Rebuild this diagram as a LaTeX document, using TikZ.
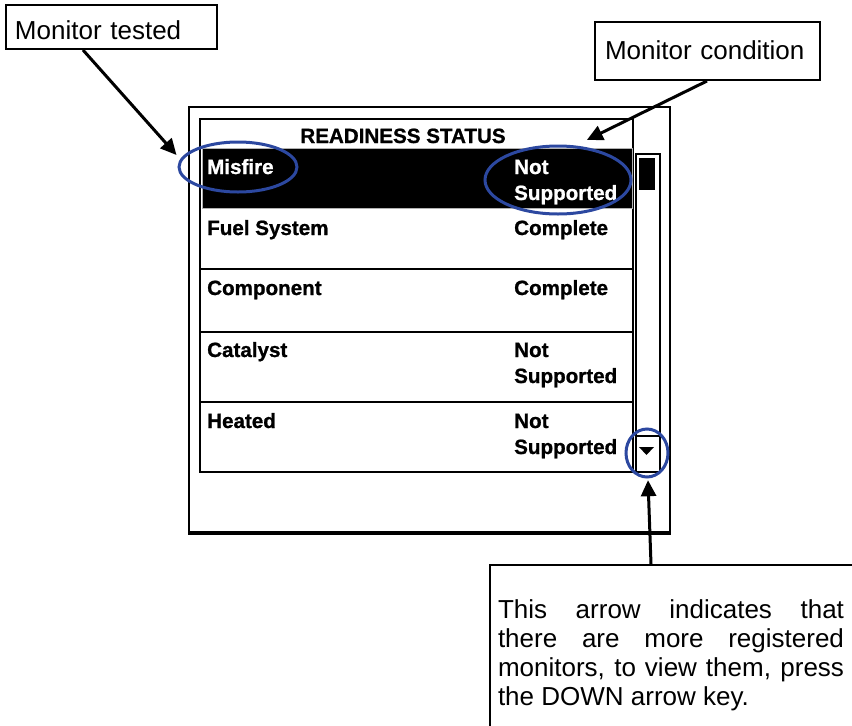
\documentclass[tikz,border=0pt]{standalone}
\usepackage{fontspec}
\setmainfont{Liberation Sans}
\newfontfamily\lcdfont{Liberation Sans Bold}[FakeBold=1]
\usetikzlibrary{arrows.meta,calc,shapes.geometric}
\definecolor{ringblue}{RGB}{44,72,160}

\begin{document}
\begin{tikzpicture}[x=1pt,y=-1pt,
  callout/.style={draw,line width=2pt,inner ysep=0pt,anchor=base west,align=left,
    font=\fontsize{26}{29}\selectfont},
  pointer/.style={line width=3pt,-{Triangle[length=16pt,width=15pt]}},
  ring/.style={ellipse,draw=ringblue,line width=3pt,inner sep=0pt},
  lcd/.style={font=\fontsize{20.6}{26}\lcdfont,inner sep=0pt,anchor=base west},
  rule/.style={line width=2.5pt},
]
\path[use as bounding box, clip] (0,0) rectangle (852,726);

% ---- scan-tool screen ----
\draw[line width=2.5pt] (189,107) rectangle (670,534);
\draw[line width=4pt] (188,533) -- (671,533);
\draw[rule] (200,119) rectangle (633,472);
% highlighted first row
\fill[black] (202,148) rectangle (632,208);
\draw[gray!60,line width=1pt] (202,148) rectangle (632,208);
% row separators
\draw[rule] (200,269) -- (633,269);
\draw[rule] (200,332) -- (633,332);
\draw[rule] (200,402) -- (633,402);
% scroll bar
\draw[rule] (636,154) rectangle (660,472);
\draw[rule] (636,436) -- (660,436);
\fill (639,158) rectangle (655,190);
\fill (639,447) -- (654,447) -- (646.5,455) -- cycle;
\node[minimum width=24pt,minimum height=36pt,inner sep=0pt] (downbtn) at (648,454) {};

% screen texts
\node[lcd,anchor=base] (hdr) at (403,143) {READINESS STATUS};
\node[lcd,text=white] (misfire) at (207,174) {Misfire};
\node[lcd,text=white] (mNot) at (514,174) {Not};
\node[lcd,text=white] (mSup) at (514,200) {Supported};
\node[lcd] (fuel) at (207,235) {Fuel System};
\node[lcd] (fuelSt) at (514,235) {Complete};
\node[lcd] (comp) at (207,295) {Component};
\node[lcd] (compSt) at (514,295) {Complete};
\node[lcd] (cat) at (207,357) {Catalyst};
\node[lcd] (catNot) at (514,357) {Not};
\node[lcd] (catSup) at (514,383) {Supported};
\node[lcd] (heat) at (207,428) {Heated};
\node[lcd] (heatNot) at (514,428) {Not};
\node[lcd] (heatSup) at (514,454) {Supported};

% highlight rings
\node[ring,minimum width=118pt,minimum height=50pt] (ringMisfire) at (238,167) {};
\node[ring,minimum width=146pt,minimum height=68pt] (ringState) at (558,180) {};
\node[ring,minimum width=42pt,minimum height=48pt] (ringDown) at (647,453) {};

% ---- callouts ----
\node[callout,inner xsep=9pt,text width=193pt,text height=34pt,text depth=10pt]
  (tested) at (5,39) {Monitor tested};
\node[callout,inner xsep=10pt,text width=205pt,text height=37pt,text depth=21pt]
  (cond) at (594,59) {Monitor condition};
\node[callout,inner xsep=8pt,text height=53pt,text depth=150pt] (note) at (489,618)
  {\begin{minipage}[t]{346pt}\hyphenpenalty=10000
   This arrow indicates that\linebreak there are more registered\linebreak
   monitors, to view them, press\linebreak the DOWN arrow key.\end{minipage}\hspace{30pt}};

% ---- pointers ----
\draw[pointer] ($(tested.south west)+(78,0)$) -- ($(ringMisfire.west)+(-1,-12)$);
\draw[pointer] ($(cond.south west)+(113,0)$) -- ($(hdr.base east)+(81,-3)$);
\draw[pointer] ($(note.north west)+(162,0)$) -- ($(downbtn.south)+(0,8)$);
\end{tikzpicture}
\end{document}
